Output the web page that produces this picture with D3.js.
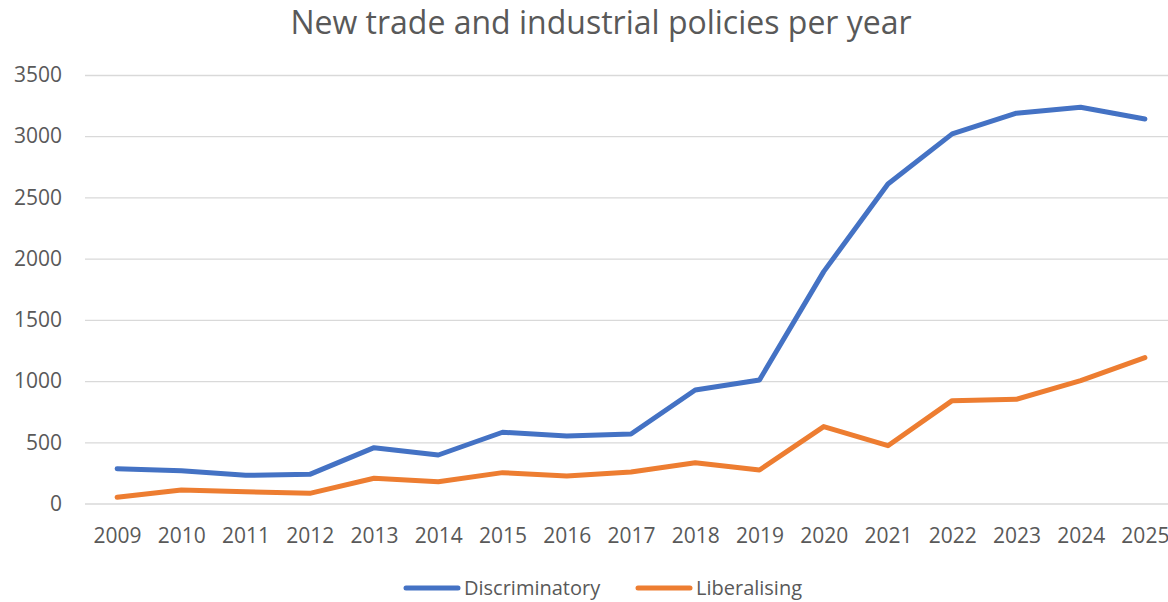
<!DOCTYPE html>
<html>
<head>
<meta charset="utf-8">
<script src="https://cdn.jsdelivr.net/npm/d3@7"></script>
<style>
  html, body { margin: 0; padding: 0; background: #fff; }
  svg { display: block; }
  text { font-family: "Open Sans", "Noto Sans", sans-serif; fill: #595959; }
</style>
</head>
<body>
<svg id="chart" width="1168" height="602"></svg>
<script>
// Policy counts per year
const years = ["2009","2010","2011","2012","2013","2014","2015","2016","2017",
               "2018","2019","2020","2021","2022","2023","2024","2025"];
const discriminatory = [284, 268, 230, 238, 456, 396, 582, 551, 568,
                        927, 1009, 1894, 2610, 3019, 3188, 3237, 3141];
const liberalising   = [51, 110, 96, 83, 206, 178, 252, 225, 257,
                        333, 274, 628, 472, 840, 851, 1003, 1191];
const yTicks = [0, 500, 1000, 1500, 2000, 2500, 3000, 3500];
const seriesNames = ["Discriminatory", "Liberalising"];
const seriesColors = ["#4472C4", "#ED7D31"];

const svg = d3.select("#chart");

const x = d3.scalePoint().domain(years).range([85, 1177]).padding(0.5);
const y = d3.scaleLinear().domain([0, 3500]).range([503.5, 75]);

// Title
svg.append("text")
  .attr("x", 601).attr("y", 34)
  .attr("text-anchor", "middle")
  .style("font-size", "32px")
  .text("New trade and industrial policies per year");

// Horizontal gridlines with y labels
const yAxis = d3.axisLeft(y).tickValues(yTicks).tickFormat(d3.format("d"))
  .tickSize(-(1177 - 85)).tickPadding(23);
const gy = svg.append("g").attr("transform", "translate(85,0)").call(yAxis);
gy.select(".domain").remove();
gy.selectAll(".tick line").attr("stroke", "#d9d9d9").attr("stroke-width", 1.3);
gy.selectAll(".tick text").style("font-size", "21px").attr("fill", "#595959");

// Year labels along the bottom
const xAxis = d3.axisBottom(x).tickSize(0).tickPadding(25);
const gx = svg.append("g").attr("transform", `translate(0,${y(0)})`).call(xAxis);
gx.select(".domain").remove();
gx.selectAll(".tick text").style("font-size", "21px").attr("fill", "#595959");

// Lines
const line = d3.line().x((d, i) => x(years[i])).y(d => y(d));
[discriminatory, liberalising].forEach((vals, k) => {
  svg.append("path")
    .datum(vals)
    .attr("d", line)
    .attr("fill", "none")
    .attr("stroke", seriesColors[k])
    .attr("stroke-width", 5)
    .attr("stroke-linejoin", "round")
    .attr("stroke-linecap", "round");
});

// Legend
const legendItems = [
  { name: seriesNames[0], color: seriesColors[0], x0: 406 },
  { name: seriesNames[1], color: seriesColors[1], x0: 638 }
];
legendItems.forEach(it => {
  svg.append("line")
    .attr("x1", it.x0).attr("x2", it.x0 + 52)
    .attr("y1", 588).attr("y2", 588)
    .attr("stroke", it.color).attr("stroke-width", 5)
    .attr("stroke-linecap", "round");
  svg.append("text")
    .attr("x", it.x0 + 58).attr("y", 595)
    .style("font-size", "20px")
    .text(it.name);
});
</script>
</body>
</html>
